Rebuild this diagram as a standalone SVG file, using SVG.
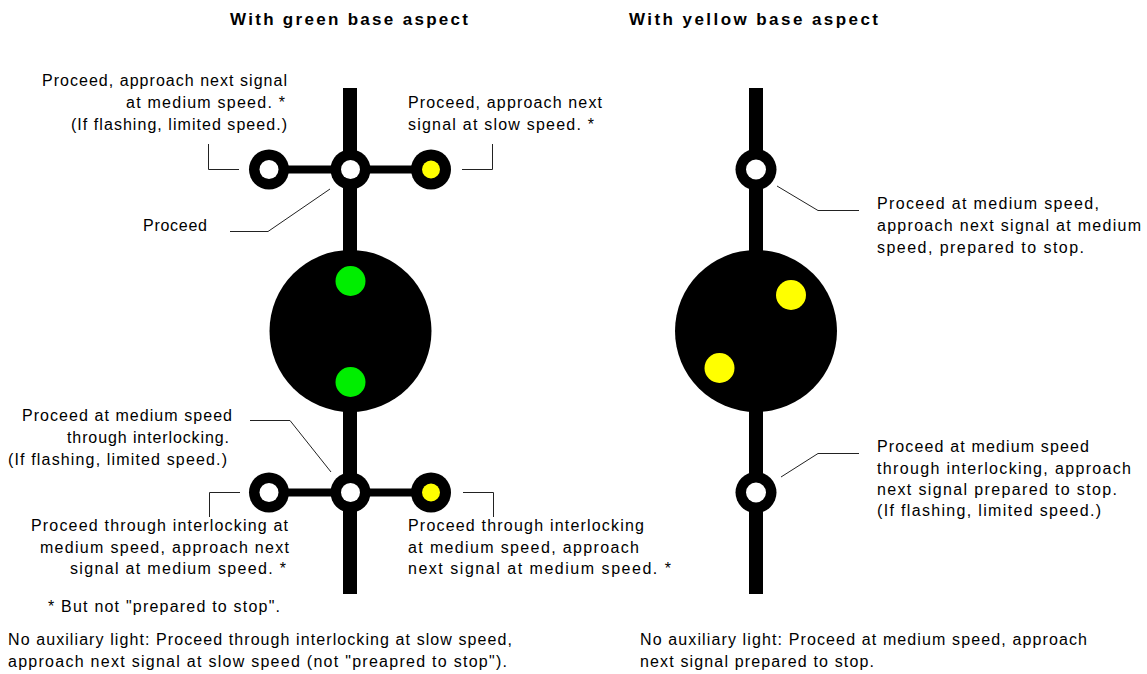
<svg xmlns="http://www.w3.org/2000/svg" width="1147" height="674" viewBox="0 0 1147 674">
<style>
text{font-family:"Liberation Sans",Arial,sans-serif;font-size:16px;fill:#000}
.t{font-weight:bold;font-size:17px}
.lead{fill:none;stroke:#222;stroke-width:1}
.ring{fill:#000}
.hole{fill:#fff}
.yel{fill:#ffff00}
.grn{fill:#00ee00}
</style>
<rect width="1147" height="674" fill="#fff"/>
<g id="titles">
<text class="t" x="230" y="25" textLength="238" lengthAdjust="spacing">With green base aspect</text>
<text class="t" x="629" y="25" textLength="249" lengthAdjust="spacing">With yellow base aspect</text>
</g>
<g id="signal-green">
<rect x="343" y="88" width="14" height="506" fill="#000"/>
<circle cx="350.5" cy="331" r="81" fill="#000"/>
<circle class="grn" cx="350.5" cy="281" r="15"/>
<circle class="grn" cx="350.5" cy="382" r="15"/>
<rect x="269" y="165.5" width="162" height="8" fill="#000"/>
<circle class="ring" cx="269" cy="169.5" r="20"/><circle class="hole" cx="269" cy="169.5" r="9.5"/>
<circle class="ring" cx="350.5" cy="169.5" r="20"/><circle class="hole" cx="350.5" cy="169.5" r="9.5"/>
<circle class="ring" cx="431" cy="169.5" r="20"/><circle class="yel" cx="431" cy="169.5" r="9"/>
<rect x="269" y="488.5" width="162" height="8" fill="#000"/>
<circle class="ring" cx="269" cy="492.5" r="20"/><circle class="hole" cx="269" cy="492.5" r="9.5"/>
<circle class="ring" cx="350.5" cy="492.5" r="20"/><circle class="hole" cx="350.5" cy="492.5" r="9.5"/>
<circle class="ring" cx="431" cy="492.5" r="20"/><circle class="yel" cx="431" cy="492.5" r="9"/>
</g>
<g id="signal-yellow">
<rect x="749" y="88" width="14" height="506" fill="#000"/>
<circle cx="756" cy="331" r="81" fill="#000"/>
<circle class="yel" cx="791" cy="295" r="15"/>
<circle class="yel" cx="719.5" cy="368" r="15"/>
<circle class="ring" cx="756" cy="169.5" r="20.5"/><circle class="hole" cx="756" cy="169.5" r="10"/>
<circle class="ring" cx="756" cy="492.5" r="20.5"/><circle class="hole" cx="756" cy="492.5" r="10"/>
</g>
<g id="connectors">
<polyline class="lead" points="208.5,144 208.5,169.5 239,169.5"/>
<polyline class="lead" points="462,169.5 492.5,169.5 492.5,144"/>
<polyline class="lead" points="230,231.5 268,231.5 330,189"/>
<polyline class="lead" points="250,420.5 290,420.5 331,472"/>
<polyline class="lead" points="209.5,517 209.5,492.5 240,492.5"/>
<polyline class="lead" points="463,492.5 493.5,492.5 493.5,517"/>
<polyline class="lead" points="777,186 818,210.5 859,210.5"/>
<polyline class="lead" points="781,477 818,453.5 859,453.5"/>
</g>
<g id="label-ul">
<text x="42" y="86" textLength="245" lengthAdjust="spacing">Proceed, approach next signal</text>
<text x="126" y="108" textLength="159" lengthAdjust="spacing">at medium speed. *</text>
<text x="71" y="130" textLength="216" lengthAdjust="spacing">(If flashing, limited speed.)</text>
</g>
<g id="label-ur">
<text x="408" y="108" textLength="194" lengthAdjust="spacing">Proceed, approach next</text>
<text x="408" y="130" textLength="186" lengthAdjust="spacing">signal at slow speed. *</text>
</g>
<g id="label-proceed">
<text x="143" y="231" textLength="64" lengthAdjust="spacing">Proceed</text>
</g>
<g id="label-lm">
<text x="22" y="421" textLength="210" lengthAdjust="spacing">Proceed at medium speed</text>
<text x="67" y="443" textLength="162" lengthAdjust="spacing">through interlocking.</text>
<text x="8" y="465" textLength="219" lengthAdjust="spacing">(If flashing, limited speed.)</text>
</g>
<g id="label-ll">
<text x="31" y="531" textLength="257" lengthAdjust="spacing">Proceed through interlocking  at</text>
<text x="40" y="553" textLength="249" lengthAdjust="spacing">medium speed,  approach next</text>
<text x="70" y="574" textLength="216" lengthAdjust="spacing">signal at  medium  speed. *</text>
</g>
<g id="label-lr">
<text x="408" y="531" textLength="236" lengthAdjust="spacing">Proceed through interlocking</text>
<text x="408" y="553" textLength="231" lengthAdjust="spacing">at medium speed,  approach</text>
<text x="408" y="574" textLength="263" lengthAdjust="spacing">next signal at  medium  speed. *</text>
</g>
<g id="label-yu">
<text x="877" y="209" textLength="222" lengthAdjust="spacing">Proceed at  medium  speed,</text>
<text x="877" y="231" textLength="264" lengthAdjust="spacing">approach  next signal  at medium</text>
<text x="877" y="253" textLength="207" lengthAdjust="spacing">speed,  prepared  to stop.</text>
</g>
<g id="label-yl">
<text x="877" y="452" textLength="212" lengthAdjust="spacing">Proceed at  medium  speed</text>
<text x="877" y="474" textLength="254" lengthAdjust="spacing">through interlocking,  approach</text>
<text x="877" y="495" textLength="240" lengthAdjust="spacing">next signal prepared  to stop.</text>
<text x="877" y="516" textLength="224" lengthAdjust="spacing">(If flashing,  limited  speed.)</text>
</g>
<g id="notes">
<text x="48" y="612" textLength="232" lengthAdjust="spacing">* But not "prepared to stop".</text>
<text x="8" y="645" textLength="504" lengthAdjust="spacing">No auxiliary light: Proceed through interlocking at slow speed,</text>
<text x="8" y="667" textLength="499" lengthAdjust="spacing">approach next signal at  slow speed (not "preapred to stop").</text>
<text x="640" y="645" textLength="447" lengthAdjust="spacing">No auxiliary light: Proceed at  medium speed, approach</text>
<text x="640" y="667" textLength="234" lengthAdjust="spacing">next signal prepared to stop.</text>
</g>
</svg>
